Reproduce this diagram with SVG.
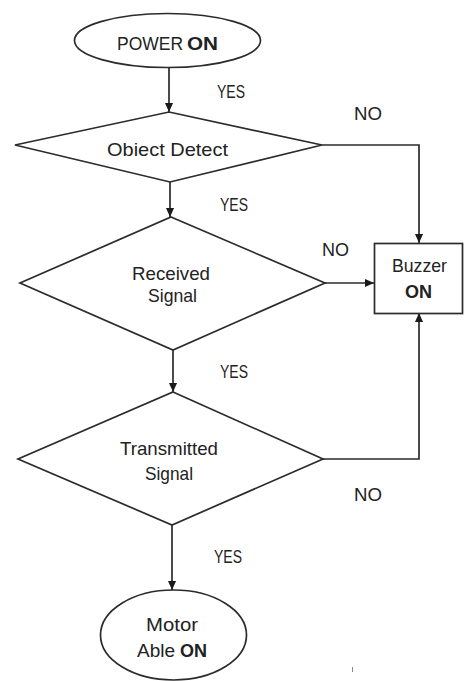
<svg xmlns="http://www.w3.org/2000/svg" width="464" height="681" viewBox="0 0 464 681">
  <style>
    .shape { fill: #ffffff; stroke: #2b2b2b; stroke-width: 1.7; }
    .conn { fill: none; stroke: #2b2b2b; stroke-width: 1.7; marker-end: url(#arrow); }
    .lbl { font-family: "Liberation Sans", Arial, sans-serif; font-size: 19px; fill: #222222; }
    .b { font-weight: bold; }
  </style>
  <defs>
    <marker id="arrow" viewBox="0 0 10 10" refX="10" refY="5" markerWidth="9" markerHeight="9" markerUnits="userSpaceOnUse" orient="auto">
      <path d="M0,0.5 L10,5 L0,9.5 Z" fill="#1a1a1a"/>
    </marker>
  </defs>
  <rect width="464" height="681" fill="#ffffff"/>

  <!-- connectors -->
  <g id="connectors">
    <line class="conn" x1="169" y1="68" x2="169" y2="112"/>
    <line class="conn" x1="170" y1="182" x2="170" y2="217"/>
    <line class="conn" x1="173" y1="350" x2="173" y2="392"/>
    <line class="conn" x1="172" y1="525" x2="172" y2="590"/>
    <polyline class="conn" points="322,145 419,145 419,243"/>
    <line class="conn" x1="325" y1="283" x2="374" y2="283"/>
    <polyline class="conn" points="323,459 419,459 419,313"/>
    <text class="lbl" x="217" y="98" textLength="28" lengthAdjust="spacingAndGlyphs">YES</text>
    <text class="lbl" x="354" y="120" textLength="28" lengthAdjust="spacingAndGlyphs">NO</text>
    <text class="lbl" x="220" y="211" textLength="28" lengthAdjust="spacingAndGlyphs">YES</text>
    <text class="lbl" x="322" y="256" textLength="27" lengthAdjust="spacingAndGlyphs">NO</text>
    <text class="lbl" x="220" y="378" textLength="28" lengthAdjust="spacingAndGlyphs">YES</text>
    <text class="lbl" x="354" y="501" textLength="28" lengthAdjust="spacingAndGlyphs">NO</text>
    <text class="lbl" x="214" y="563" textLength="28" lengthAdjust="spacingAndGlyphs">YES</text>
  </g>

  <!-- start terminal -->
  <g id="power-on">
    <ellipse class="shape" cx="167.5" cy="40.5" rx="93" ry="27"/>
    <text class="lbl" x="117" y="50" textLength="66" lengthAdjust="spacingAndGlyphs">POWER</text>
    <text class="lbl b" x="187" y="50" textLength="31" lengthAdjust="spacingAndGlyphs">ON</text>
  </g>

  <!-- decision: object detect -->
  <g id="object-detect">
    <polygon class="shape" points="169,112 322,145 170,182 15,145"/>
    <text class="lbl" x="107" y="156" textLength="121" lengthAdjust="spacingAndGlyphs">Obiect Detect</text>
  </g>

  <!-- decision: received signal -->
  <g id="received-signal">
    <polygon class="shape" points="171,217 325,283 173,350 20,283"/>
    <text class="lbl" x="132" y="280" textLength="78" lengthAdjust="spacingAndGlyphs">Received</text>
    <text class="lbl" x="148" y="302" textLength="49" lengthAdjust="spacingAndGlyphs">Signal</text>
  </g>

  <!-- action: buzzer -->
  <g id="buzzer-on">
    <rect class="shape" x="374.5" y="243.5" width="88" height="70"/>
    <text class="lbl" x="392" y="272" textLength="55" lengthAdjust="spacingAndGlyphs">Buzzer</text>
    <text class="lbl b" x="405" y="298" textLength="27" lengthAdjust="spacingAndGlyphs">ON</text>
  </g>

  <!-- decision: transmitted signal -->
  <g id="transmitted-signal">
    <polygon class="shape" points="173,392 323,459 172,525 18,459"/>
    <text class="lbl" x="120" y="455" textLength="98" lengthAdjust="spacingAndGlyphs">Transmitted</text>
    <text class="lbl" x="145" y="480" textLength="48" lengthAdjust="spacingAndGlyphs">Signal</text>
  </g>

  <!-- end terminal -->
  <g id="motor-able-on">
    <ellipse class="shape" cx="173.5" cy="635" rx="73" ry="45"/>
    <text class="lbl" x="146" y="631" textLength="52" lengthAdjust="spacingAndGlyphs">Motor</text>
    <text class="lbl" x="137" y="657" textLength="38" lengthAdjust="spacingAndGlyphs">Able</text>
    <text class="lbl b" x="180" y="657" textLength="27" lengthAdjust="spacingAndGlyphs">ON</text>
  </g>

  <line x1="352.5" y1="667" x2="352.5" y2="672" stroke="#888" stroke-width="1"/>
</svg>
